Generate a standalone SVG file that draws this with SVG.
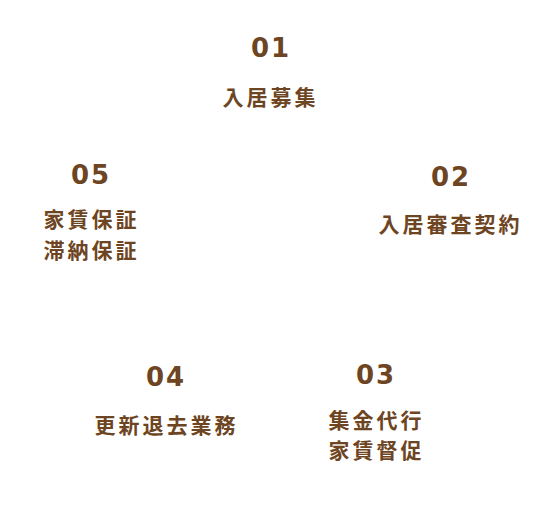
<svg xmlns="http://www.w3.org/2000/svg" width="540" height="508" viewBox="0 0 540 508">
<style>
.num{font-family:"DejaVu Sans",sans-serif;font-weight:bold;font-size:26px;letter-spacing:2px;fill:#6e4522;text-anchor:middle}
.lbl{font-family:"Noto Sans CJK JP","Noto Sans",sans-serif;font-weight:bold;font-size:21px;letter-spacing:3px;fill:#6e4522;text-anchor:middle}
</style>
<rect width="540" height="508" fill="#ffffff"/>
<g id="step01">
<text class="num" x="271" y="57">01</text>
<text class="lbl" x="270.5" y="105">入居募集</text>
</g>
<g id="step02">
<text class="num" x="451" y="186">02</text>
<text class="lbl" x="450.5" y="232">入居審査契約</text>
</g>
<g id="step03">
<text class="num" x="376" y="384">03</text>
<text class="lbl" x="376.5" y="428">集金代行</text>
<text class="lbl" x="376.5" y="458">家賃督促</text>
</g>
<g id="step04">
<text class="num" x="166" y="386">04</text>
<text class="lbl" x="166.5" y="433">更新退去業務</text>
</g>
<g id="step05">
<text class="num" x="91" y="184">05</text>
<text class="lbl" x="91.5" y="227">家賃保証</text>
<text class="lbl" x="91.5" y="258">滞納保証</text>
</g>
<g id="connectors"></g>
</svg>
